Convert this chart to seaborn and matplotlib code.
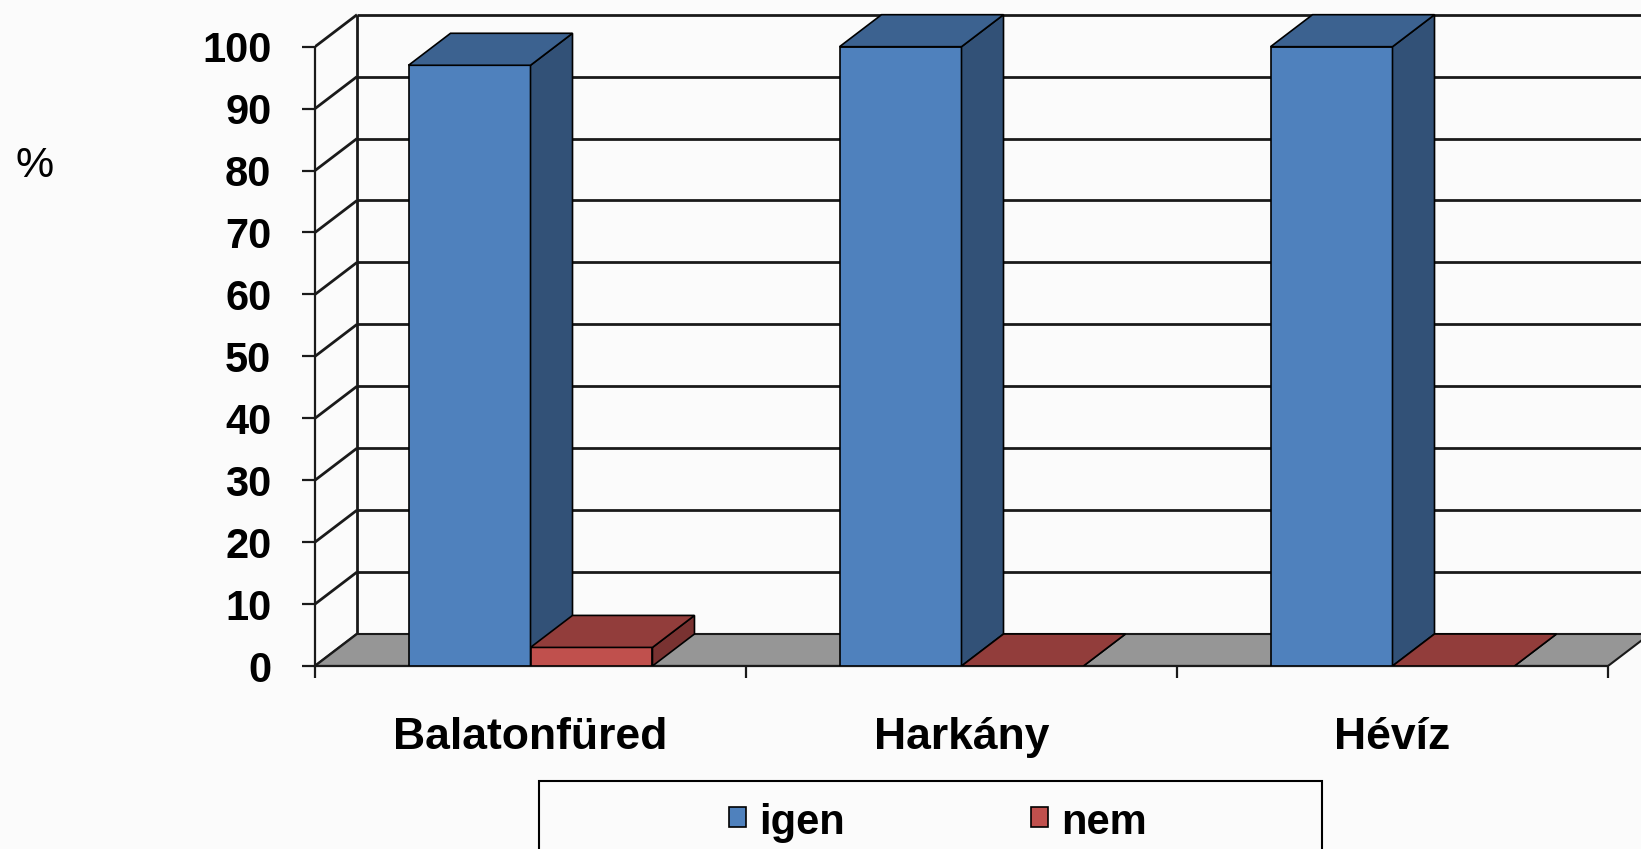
import numpy as np
import pandas as pd
import seaborn as sns
import matplotlib
matplotlib.use("Agg")
import matplotlib.pyplot as plt
from matplotlib.patches import Polygon, Rectangle
from matplotlib.lines import Line2D

# ---- data ----
locations = ["Balatonfüred", "Harkány", "Hévíz"]
series = ["igen", "nem"]
igen = [97, 100, 100]
nem = [3, 0, 0]
y_ticks = [0, 10, 20, 30, 40, 50, 60, 70, 80, 90, 100]
y_unit_label = "%"

colors = ["#4F81BD", "#C0504D"]
BG = "#fbfbfb"

df = pd.DataFrame({
    "hely": locations * 2,
    "valasz": [series[0]] * len(locations) + [series[1]] * len(locations),
    "ertek": igen + nem,
})

sns.set_theme(style="white")
plt.rcParams["font.family"] = ["Liberation Sans", "DejaVu Sans"]
plt.rcParams["text.color"] = "black"
plt.rcParams["xtick.labelcolor"] = "black"
plt.rcParams["ytick.labelcolor"] = "black"

W, H, DPI = 1641, 849, 100
fig = plt.figure(figsize=(W / DPI, H / DPI), dpi=DPI, facecolor=BG)
ax = fig.add_axes([315 / W, (H - 666) / H, 1 - 315 / W, 666 / H])
ax.set_facecolor("none")

sns.barplot(data=df, x="hely", y="ertek", hue="valasz", palette=colors,
            order=locations, hue_order=series, width=0.566,
            edgecolor="black", linewidth=1.2, saturation=1,
            legend=False, ax=ax, zorder=3)

ax.set_xlim(-0.5, -0.5 + (W - 315) / 431.0)
ax.set_ylim(0, 666 / 6.193)
ax.set_xlabel("")
ax.set_ylabel("")

# depth offset (pixels) converted into data units
fig.canvas.draw()
inv = ax.transData.inverted()
p0 = inv.transform((0, 0))
p1 = inv.transform((42, 32))
dx, dy = p1[0] - p0[0], p1[1] - p0[1]

x_left, x_right = -0.5, len(locations) - 0.5
grid_kw = dict(color="#1a1a1a", lw=2.0, zorder=1, solid_capstyle="butt")
for t in y_ticks:
    ax.add_line(Line2D([x_left + dx, x_right + dx + 1], [t + dy, t + dy], **grid_kw))
    ax.add_line(Line2D([x_left, x_left + dx], [t, t + dy], **grid_kw))
ax.add_line(Line2D([x_left + dx, x_left + dx], [dy, y_ticks[-1] + dy], **grid_kw))

# floor
floor = Polygon([(x_left, 0), (x_right, 0), (x_right + dx, dy), (x_left + dx, dy)],
                closed=True, facecolor="#969696", edgecolor="#1a1a1a", lw=1.5, zorder=1.5)
ax.add_patch(floor)


def shade(c, f):
    r, g, b = c[:3]
    return (r * f, g * f, b * f)


bars = sorted([p for c in ax.containers for p in c], key=lambda p: p.get_x())
for i, p in enumerate(bars):
    x0, w, h = p.get_x(), p.get_width(), p.get_height()
    fc = p.get_facecolor()
    z = 3 + i * 0.01
    p.set_zorder(z)
    side = Polygon([(x0 + w, 0), (x0 + w, h), (x0 + w + dx, h + dy), (x0 + w + dx, dy)],
                   closed=True, facecolor=shade(fc, 0.63), edgecolor="black", lw=1.2, zorder=z)
    top = Polygon([(x0, h), (x0 + w, h), (x0 + w + dx, h + dy), (x0 + dx, h + dy)],
                  closed=True, facecolor=shade(fc, 0.76), edgecolor="black", lw=1.2, zorder=z)
    ax.add_patch(side)
    ax.add_patch(top)

# axes / ticks
for s in ["top", "right"]:
    ax.spines[s].set_visible(False)
ax.spines["left"].set_bounds(0, 100)
ax.spines["left"].set_position(("data", -0.5))
ax.spines["bottom"].set_bounds(x_left, x_right)
for s in ["left", "bottom"]:
    ax.spines[s].set_color("#1a1a1a")
    ax.spines[s].set_linewidth(1.6)
    ax.spines[s].set_zorder(2)

ax.set_yticks(y_ticks)
ax.set_yticklabels([str(t) for t in y_ticks], fontsize=30, fontweight="bold")
ax.tick_params(axis="y", length=9.4, width=1.6, pad=22, colors="#1a1a1a", labelcolor="black", left=True)

ax.set_xticks(range(len(locations)))
ax.set_xticklabels(locations, fontsize=32, fontweight="bold")
ax.set_xticks(np.arange(len(locations) + 1) - 0.5, minor=True)
ax.tick_params(axis="x", which="major", length=0, pad=37, labelcolor="black", bottom=True)
ax.tick_params(axis="x", which="minor", length=8.6, width=1.6, colors="#1a1a1a", bottom=True)

fig.text(35 / W, 1 - 166 / H, y_unit_label, fontsize=31, ha="center", va="center", color="black")

# legend box (bottom part clipped by the figure edge as in the reference)
fig.add_artist(Rectangle((539 / W, -10 / H), (1322 - 539) / W, (10 + 849 - 781) / H,
                         transform=fig.transFigure, facecolor=BG, edgecolor="black", lw=1.5))
leg_x = [729, 1031]
for lx, lab, col in zip(leg_x, series, colors):
    fig.add_artist(Rectangle((lx / W, 1 - 827 / H), 17 / W, 20 / H, transform=fig.transFigure,
                             facecolor=col, edgecolor="black", lw=1.2))
    fig.text((lx + 30) / W, 1 - 834 / H, lab, fontsize=30, fontweight="bold",
             ha="left", va="baseline", color="black")

fig.savefig("out.png", dpi=DPI, facecolor=BG)
